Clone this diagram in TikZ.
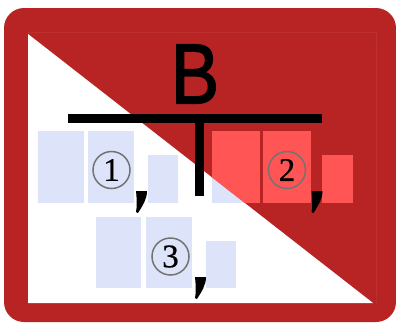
\documentclass[tikz,border=0pt]{standalone}
\usepackage{fontspec}
\setmainfont{Liberation Sans}
\newfontfamily\heavyletter[FakeBold=2]{Liberation Sans}
\newfontfamily\serifdigit[FakeBold=0.6]{Liberation Serif}
\definecolor{signred}{RGB}{184,36,36}
\definecolor{faintred}{RGB}{190,48,48}
\definecolor{paleblue}{RGB}{221,228,250}
\definecolor{palered}{RGB}{255,85,85}
\tikzset{
  x=1pt,y=-1pt,
  digit/.style={circle,draw=black!55,line width=1.5pt,inner sep=0pt,minimum size=37pt,font=\serifdigit\fontsize{33}{33}\selectfont},
  mark comma/.style={fill=black},
  barline/.style={draw=black,line width=9pt},
}
\newcommand{\cells}{%
  \fill (38,131) rectangle (84,203);
  \fill (88,131) rectangle (134,203);
  \fill (148,155) rectangle (178,203);
  \fill (212,131) rectangle (260,203);
  \fill (263,131) rectangle (311,203);
  \fill (322,155) rectangle (353,203);
  \fill (96,217) rectangle (141,288);
  \fill (146,217) rectangle (192,288);
  \fill (206,241) rectangle (236,288);
}
\newcommand{\commaat}[2]{%
  \fill[mark comma,shift={(#1,#2)}] (0,0) -- (11,0) .. controls (11,8) and (7,14) .. (2,22) -- (0,21) .. controls (1,16) and (1,10) .. (0,0) -- cycle;
}
\begin{document}
\begin{tikzpicture}
\useasboundingbox (0,0) rectangle (396,322);
\fill[signred,rounded corners=20pt] (4,8) rectangle (396,322);
\draw[faintred,line width=0.7pt] (28,32) -- (376,32) -- (376,303);
\fill[white] (28,34) -- (28,303) -- (373,303) -- cycle;
\begin{scope}
  \clip (28,34) -- (28,303) -- (373,303) -- cycle;
  \color{paleblue}\cells
\end{scope}
\begin{scope}
  \clip (28,34) -- (396,321) -- (396,8) -- (28,8) -- cycle;
  \color{palered}\cells
\end{scope}
\node[font=\heavyletter\fontsize{85}{85}\selectfont,inner sep=0pt,xscale=0.85] (B) at (195,74) {B};
\coordinate (barL) at (68,118.5);
\coordinate (barR) at (322,118.5);
\coordinate (stemT) at (199.5,118.5);
\coordinate (stemB) at (199.5,196);
\draw[barline] (barL) -- (barR);
\draw[barline] (stemT) -- (stemB);
\node[digit] (one) at (111.5,170) {1};
\node[digit] (two) at (287,170) {2};
\node[digit] (three) at (170.5,256.5) {3};
\commaat{136}{191}
\commaat{311.5}{191}
\commaat{195}{277}
\end{tikzpicture}
\end{document}
